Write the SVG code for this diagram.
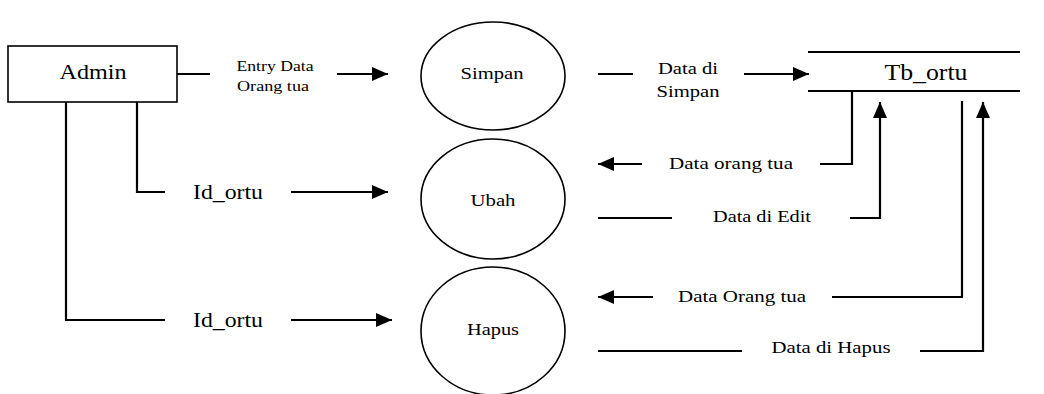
<svg xmlns="http://www.w3.org/2000/svg" width="1044" height="394" viewBox="0 0 1044 394">
<defs>
<marker id="ah" markerWidth="16" markerHeight="14" refX="16" refY="7" orient="auto" markerUnits="userSpaceOnUse">
<path d="M0,0 L16,7 L0,14 Z" fill="#000"/>
</marker>
<style>
text{fill:#000;text-anchor:middle;font-weight:normal}
.node{fill:#fff;stroke:#000;stroke-width:1.6}
.store{stroke:#000;stroke-width:2}
.c{fill:none;stroke:#000;stroke-width:2.2}
.a{fill:none;stroke:#000;stroke-width:2.2;marker-end:url(#ah)}
.lbl{font-size:17.5px}
.sm{font-size:14.5px}
</style>
</defs>
<rect width="1044" height="394" fill="#fff"/>
<g font-family="Liberation Serif, serif">
<g id="admin">
<rect class="node" x="8" y="46" width="169" height="56" stroke-width="2"/>
<text x="93" y="79" font-size="21" textLength="67" lengthAdjust="spacingAndGlyphs">Admin</text>
</g>
<g id="simpan">
<ellipse class="node" cx="493" cy="76" rx="72" ry="54"/>
<text x="492" y="79" font-size="17.5" textLength="63" lengthAdjust="spacingAndGlyphs">Simpan</text>
</g>
<g id="ubah">
<ellipse class="node" cx="493" cy="199" rx="72" ry="60"/>
<text x="493" y="206" font-size="17.5" textLength="45" lengthAdjust="spacingAndGlyphs">Ubah</text>
</g>
<g id="hapus">
<ellipse class="node" cx="493" cy="331" rx="72" ry="64"/>
<text x="493" y="335" font-size="17.5" textLength="52" lengthAdjust="spacingAndGlyphs">Hapus</text>
</g>
<g id="tb_ortu">
<line class="store" x1="808" y1="52" x2="1020" y2="52"/>
<line class="store" x1="808" y1="91" x2="1020" y2="91"/>
<text x="926" y="80" font-size="23" textLength="83" lengthAdjust="spacingAndGlyphs">Tb_ortu</text>
</g>
<g id="connectors">
<line class="c" x1="177" y1="74" x2="210" y2="74"/>
<text class="sm" x="275" y="71" textLength="77" lengthAdjust="spacingAndGlyphs">Entry Data</text>
<text class="sm" x="273" y="91" textLength="72" lengthAdjust="spacingAndGlyphs">Orang tua</text>
<line class="a" x1="337" y1="74" x2="388" y2="74"/>
<polyline class="c" points="137,102 137,192 165,192"/>
<text x="228" y="199" font-size="21" textLength="70" lengthAdjust="spacingAndGlyphs">Id_ortu</text>
<line class="a" x1="291" y1="192" x2="388" y2="192"/>
<polyline class="c" points="66,102 66,320 165,320"/>
<text x="228" y="327" font-size="21" textLength="70" lengthAdjust="spacingAndGlyphs">Id_ortu</text>
<line class="a" x1="291" y1="320" x2="392" y2="320"/>
<line class="c" x1="598" y1="74" x2="633" y2="74"/>
<text class="lbl" x="688" y="74" textLength="60" lengthAdjust="spacingAndGlyphs">Data di</text>
<text class="lbl" x="688" y="97" textLength="63" lengthAdjust="spacingAndGlyphs">Simpan</text>
<line class="a" x1="744" y1="74" x2="809" y2="74"/>
<polyline class="c" points="852,91 852,164 820,164"/>
<text class="lbl" x="731" y="169" textLength="124" lengthAdjust="spacingAndGlyphs">Data orang tua</text>
<line class="a" x1="642" y1="164" x2="598" y2="164"/>
<line class="c" x1="598" y1="218" x2="672" y2="218"/>
<text class="lbl" x="762" y="222" textLength="98" lengthAdjust="spacingAndGlyphs">Data di Edit</text>
<polyline class="a" points="850,218 880,218 880,102"/>
<polyline class="c" points="962,101 962,297 832,297"/>
<text class="lbl" x="742" y="302" textLength="128" lengthAdjust="spacingAndGlyphs">Data Orang tua</text>
<line class="a" x1="653" y1="297" x2="598" y2="297"/>
<line class="c" x1="598" y1="351" x2="742" y2="351"/>
<text class="lbl" x="831" y="353" textLength="119" lengthAdjust="spacingAndGlyphs">Data di Hapus</text>
<polyline class="a" points="920,351 983,351 983,102"/>
</g>
</g>
</svg>
